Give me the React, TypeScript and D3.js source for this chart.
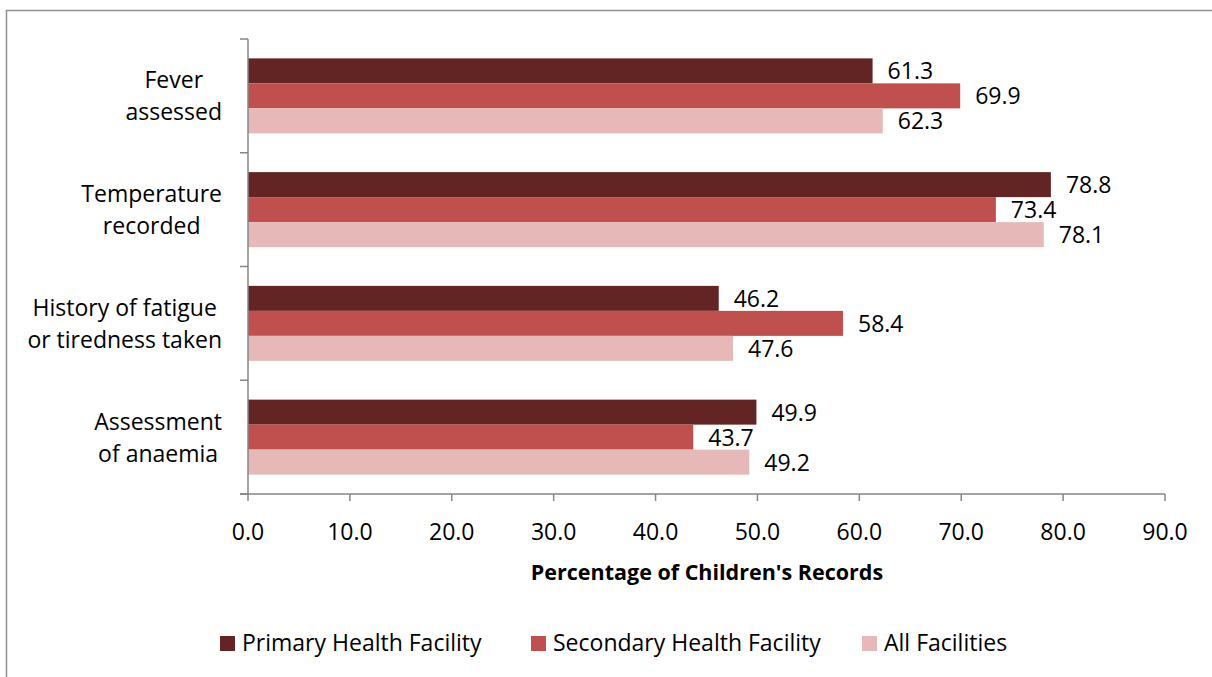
import React, { useEffect, useRef } from "react";
import * as d3 from "d3";

const categories = ["Fever\nassessed", "Temperature\nrecorded", "History of fatigue\nor tiredness taken", "Assessment\nof anaemia"];
const seriesNames = ["Primary Health Facility", "Secondary Health Facility", "All Facilities"];
const primaryValues = [61.3, 78.8, 46.2, 49.9];
const secondaryValues = [69.9, 73.4, 58.4, 43.7];
const allValues = [62.3, 78.1, 47.6, 49.2];
const xTicks = [0, 10, 20, 30, 40, 50, 60, 70, 80, 90];
const colors = ["#632523", "#C0504D", "#E6B9B8"];
const xTitle = "Percentage of Children's Records";

const W = 1212, H = 677;
const FONT = "'Open Sans', Lato, sans-serif";

export default function App() {
  const ref = useRef<SVGSVGElement>(null);
  useEffect(() => {
    document.body.style.margin = "0";
    const svg = d3.select(ref.current);
    svg.selectAll("*").remove();

    // outer frame (cropped: only top and left edges visible)
    svg.append("path").attr("d", `M6.5,${H}V10.5H${W}`).attr("fill", "none")
      .attr("stroke", "#8f8f8f").attr("stroke-width", 1.5);

    const x = d3.scaleLinear().domain([0, 90]).range([248, 1165]);
    const y = d3.scaleBand<number>().domain(d3.range(categories.length)).range([39, 494]);
    const inner = d3.scaleBand<number>().domain([0, 1, 2]).range([0, y.bandwidth()]).paddingOuter(0.775);
    const series = [primaryValues, secondaryValues, allValues];

    const g = svg.append("g");
    series.forEach((vals, si) => {
      vals.forEach((v, ci) => {
        const by = (y(ci) as number) + (inner(si) as number);
        g.append("rect").attr("x", x(0)).attr("y", by).attr("width", x(v) - x(0)).attr("height", inner.bandwidth())
          .attr("fill", colors[si]);
        g.append("text").attr("x", x(v) + 15).attr("y", by + inner.bandwidth() / 2 + 8.5)
          .attr("font-family", FONT).attr("font-size", 23).attr("fill", "#000").text(v.toFixed(1));
      });
    });

    // axes
    const axisColor = "#868686";
    svg.append("line").attr("x1", 248).attr("x2", 248).attr("y1", 39).attr("y2", 494).attr("stroke", axisColor).attr("stroke-width", 1.5);
    svg.append("line").attr("x1", 240).attr("x2", 1165).attr("y1", 494).attr("y2", 494).attr("stroke", axisColor).attr("stroke-width", 1.5);
    d3.range(categories.length + 1).forEach((i) => {
      const yy = i < categories.length ? (y(i) as number) : 494;
      svg.append("line").attr("x1", 240).attr("x2", 248).attr("y1", yy).attr("y2", yy).attr("stroke", axisColor).attr("stroke-width", 1.5);
    });
    xTicks.forEach((t) => {
      svg.append("line").attr("x1", x(t)).attr("x2", x(t)).attr("y1", 494).attr("y2", 501).attr("stroke", axisColor).attr("stroke-width", 1.5);
      svg.append("text").attr("x", x(t)).attr("y", 540).attr("text-anchor", "middle")
        .attr("font-family", FONT).attr("font-size", 23).attr("fill", "#000").text(t.toFixed(1));
    });

    // category labels
    categories.forEach((c, ci) => {
      const lines = c.split("\n");
      const cy = (y(ci) as number) + y.bandwidth() / 2;
      const tg = svg.append("g");
      const texts = lines.map((ln, li) =>
        tg.append("text").attr("y", cy + (li - (lines.length - 1) / 2) * 32 + 8.5)
          .attr("text-anchor", "middle").attr("font-family", FONT).attr("font-size", 23).attr("fill", "#000").text(ln)
      );
      const maxW = d3.max(texts, (t) => (t.node() as SVGTextElement).getComputedTextLength()) || 0;
      texts.forEach((t) => t.attr("x", 222 - maxW / 2));
    });

    // x title
    svg.append("text").attr("x", 707).attr("y", 580).attr("text-anchor", "middle")
      .attr("font-family", FONT).attr("font-size", 21.5).attr("font-weight", "bold").attr("fill", "#000").text(xTitle);

    // legend
    const legendX = [220, 531, 862];
    seriesNames.forEach((n, i) => {
      svg.append("rect").attr("x", legendX[i]).attr("y", 636).attr("width", 15).attr("height", 15).attr("fill", colors[i]);
      svg.append("text").attr("x", legendX[i] + 22).attr("y", 651)
        .attr("font-family", FONT).attr("font-size", 23).attr("fill", "#000").text(n);
    });
  }, []);
  return <svg ref={ref} width={W} height={H} style={{ display: "block", background: "#fff" }} />;
}
